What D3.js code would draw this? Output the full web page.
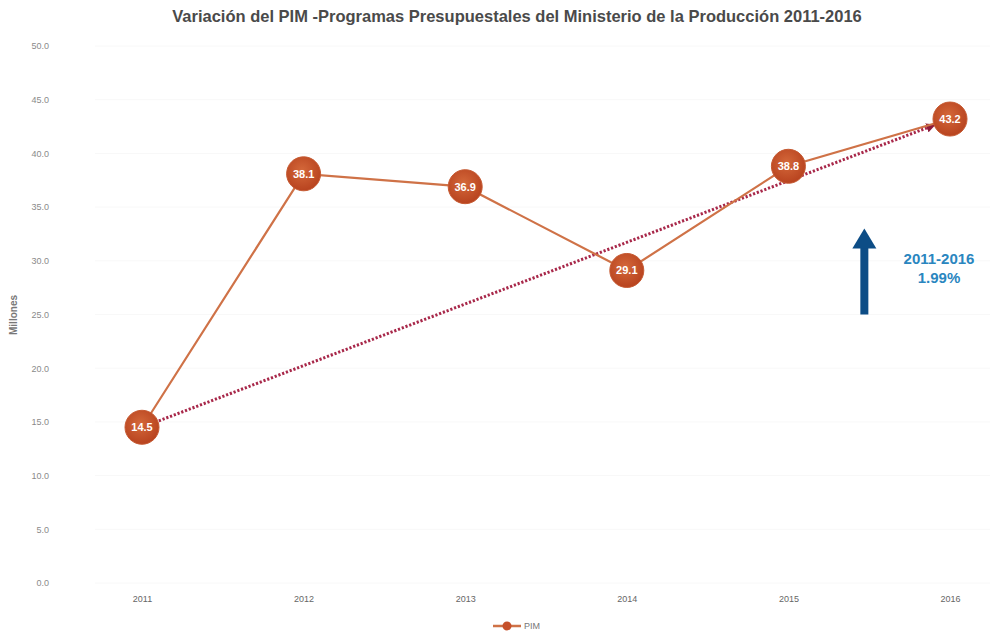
<!DOCTYPE html>
<html><head><meta charset="utf-8">
<script src="https://cdn.jsdelivr.net/npm/d3@7"></script>
<style>body{margin:0;background:#fff}svg{display:block}</style>
</head><body>
<script>
const years = ["2011","2012","2013","2014","2015","2016"];
const pim = [14.5, 38.1, 36.9, 29.1, 38.8, 43.2];
const yTicks = [0,5,10,15,20,25,30,35,40,45,50];
const title = "Variación del PIM -Programas Presupuestales del Ministerio de la Producción 2011-2016";
const yTitle = "Millones";
const seriesName = "PIM";
const noteLines = ["2011-2016", "1.99%"];
const arrowPos = 4.47;        // between 2015 and 2016 (index units)
const arrowRange = [25.0, 33.0];

const W = 997, H = 631;
const svg = d3.select("body").append("svg").attr("width", W).attr("height", H);

const x = d3.scalePoint().domain(years).range([142, 950]);
const xi = d3.scaleLinear().domain([0, years.length - 1]).range([142, 950]);
const y = d3.scaleLinear().domain([0, 50]).range([583, 46]);

const defs = svg.append("defs");
const grad = defs.append("radialGradient").attr("id", "dot").attr("cx", "45%").attr("cy", "40%").attr("r", "60%");
grad.append("stop").attr("offset", "0%").attr("stop-color", "#d4683a");
grad.append("stop").attr("offset", "100%").attr("stop-color", "#b8431f");
defs.append("marker").attr("id", "tri").attr("viewBox", "0 0 10 10").attr("refX", 5).attr("refY", 5)
  .attr("markerWidth", 3.2).attr("markerHeight", 3.2).attr("orient", "auto")
  .append("path").attr("d", "M0,0L10,5L0,10Z").attr("fill", "#8e1a3a");

// faint gridlines
svg.append("g").selectAll("line").data(yTicks).join("line")
  .attr("x1", 95).attr("x2", 990).attr("y1", d => y(d)).attr("y2", d => y(d))
  .attr("stroke", "#f8f8f8").attr("stroke-width", 1);

// title
svg.append("text").attr("x", 517).attr("y", 22).attr("text-anchor", "middle")
  .attr("font-family", "Liberation Sans, Arial, sans-serif").attr("font-weight", "bold")
  .attr("font-size", 16.5).attr("fill", "#4a4a4a").text(title);

// y axis
const yAxis = d3.axisLeft(y).tickValues(yTicks).tickFormat(d3.format(".1f")).tickSize(0).tickPadding(0);
const gy = svg.append("g").attr("transform", "translate(49,0)").call(yAxis);
gy.select(".domain").remove();
gy.selectAll("text").attr("font-family", "Liberation Sans, Arial, sans-serif").attr("font-size", 9).attr("fill", "#8a8a8a");

svg.append("text").attr("transform", "translate(17,315) rotate(-90)").attr("text-anchor", "middle")
  .attr("font-family", "Liberation Sans, Arial, sans-serif").attr("font-size", 10).attr("font-weight", "bold").attr("fill", "#777").text(yTitle);

// x axis
const xAxis = d3.axisBottom(x).tickSize(0).tickPadding(0);
const gx = svg.append("g").attr("transform", "translate(0,596)").call(xAxis);
gx.select(".domain").remove();
gx.selectAll("text").attr("font-family", "Liberation Sans, Arial, sans-serif").attr("font-size", 9).attr("fill", "#666");

// trend dotted line with arrow
const first = {x: x(years[0]), y: y(pim[0])};
const last = {x: x(years[years.length - 1]), y: y(pim[pim.length - 1])};
const ang = Math.atan2(last.y - first.y, last.x - first.x);
svg.append("line")
  .attr("x1", first.x + 18 * Math.cos(ang)).attr("y1", first.y + 18 * Math.sin(ang))
  .attr("x2", last.x - 20 * Math.cos(ang)).attr("y2", last.y - 20 * Math.sin(ang))
  .attr("stroke", "#a8284a").attr("stroke-width", 3).attr("stroke-dasharray", "2.2,1.8")
  .attr("marker-end", "url(#tri)");

// series line
const line = d3.line().x((d, i) => x(years[i])).y(d => y(d));
svg.append("path").datum(pim).attr("d", line).attr("fill", "none")
  .attr("stroke", "#cf7247").attr("stroke-width", 2.2);

// points
const pts = svg.append("g").selectAll("g").data(pim).join("g")
  .attr("transform", (d, i) => `translate(${x(years[i])},${y(d)})`);
pts.append("circle").attr("r", 17).attr("fill", "url(#dot)").attr("stroke", "#c65a32").attr("stroke-width", 1);
pts.append("text").attr("text-anchor", "middle").attr("dy", "0.35em")
  .attr("font-family", "Liberation Sans, Arial, sans-serif").attr("font-weight", "bold")
  .attr("font-size", 11).attr("fill", "#fff").text(d => d3.format(".1f")(d));

// blue arrow annotation
const ax = xi(arrowPos), ay0 = y(arrowRange[0]), ay1 = y(arrowRange[1]);
svg.append("rect").attr("x", ax - 4).attr("y", ay1 + 18).attr("width", 8).attr("height", ay0 - ay1 - 18).attr("fill", "#0d4d86");
svg.append("path").attr("d", `M${ax - 12},${ay1 + 20}L${ax},${ay1}L${ax + 12},${ay1 + 20}Z`).attr("fill", "#0d4d86");

svg.append("g").selectAll("text").data(noteLines).join("text")
  .attr("x", 939).attr("y", (d, i) => 264 + i * 19).attr("text-anchor", "middle")
  .attr("font-family", "Liberation Sans, Arial, sans-serif").attr("font-weight", "bold")
  .attr("font-size", 15).attr("fill", "#2a86bf").text(d => d);

// legend
const lg = svg.append("g").attr("transform", "translate(507,626)");
lg.append("line").attr("x1", -14).attr("x2", 14).attr("stroke", "#cf7247").attr("stroke-width", 2.5);
lg.append("circle").attr("r", 4.5).attr("fill", "#c6502a");
lg.append("text").attr("x", 17).attr("dy", "0.35em").attr("font-family", "Liberation Sans, Arial, sans-serif")
  .attr("font-size", 9).attr("fill", "#777").text(seriesName);
</script>
</body></html>
